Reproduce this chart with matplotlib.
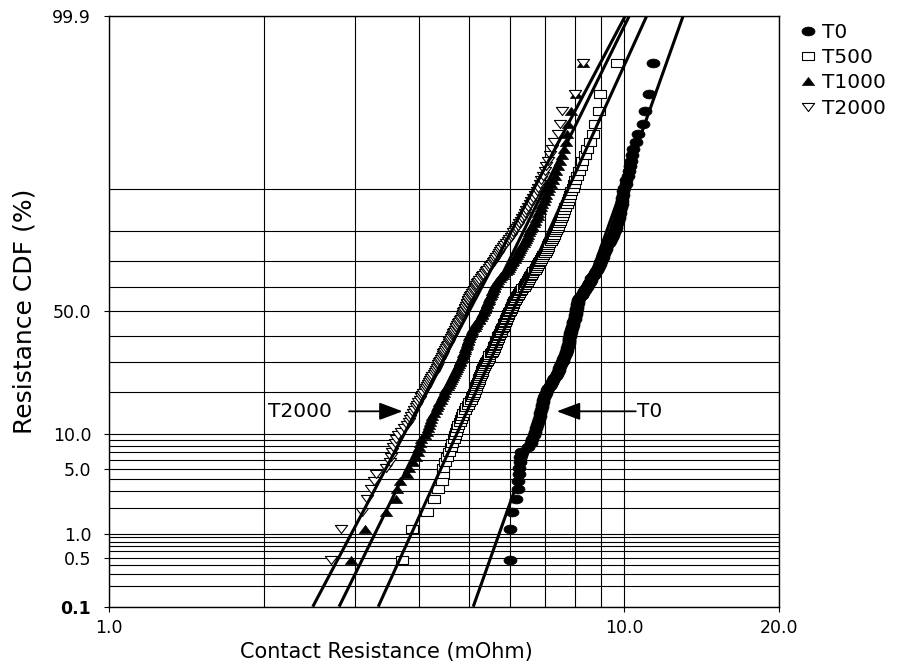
import numpy as np
import matplotlib
matplotlib.use("Agg")
import matplotlib.pyplot as plt
from matplotlib.path import Path
from matplotlib.ticker import NullFormatter
from statistics import NormalDist

plt.rcParams['font.family'] = ['DejaVu Sans']

# ---------------- data (contact resistance, mOhm, sorted) ----------------
series_names = ["T0", "T500", "T1000", "T2000"]

t0_values = [
    6.00, 6.00, 6.04, 6.17, 6.22, 6.22, 6.24, 6.25, 6.27, 6.28, 6.30,
    6.50, 6.60, 6.63, 6.67, 6.70, 6.72, 6.75, 6.78, 6.82, 6.85, 6.87, 6.89, 6.91, 6.93, 6.94, 6.96,
    6.98, 7.02, 7.05, 7.08, 7.12, 7.16, 7.20, 7.24,
    7.27, 7.31, 7.35, 7.39, 7.42, 7.45, 7.48,
    7.51, 7.54, 7.56, 7.59, 7.61, 7.64, 7.66, 7.69, 7.71, 7.74,
    7.75, 7.76, 7.78, 7.79, 7.80, 7.81, 7.82, 7.83, 7.84, 7.85,
    7.86, 7.88, 7.90, 7.92, 7.93, 7.95, 7.96, 7.98, 8.00, 8.02,
    8.03, 8.04, 8.05, 8.06, 8.07, 8.08, 8.09, 8.10, 8.11, 8.12, 8.14,
    8.18, 8.22, 8.26, 8.30, 8.34, 8.37, 8.41, 8.45, 8.49, 8.53,
    8.56, 8.60, 8.63, 8.67, 8.71, 8.75, 8.79, 8.83, 8.87,
    8.91, 8.95, 8.98, 9.01, 9.04, 9.07, 9.10, 9.13, 9.16, 9.19,
    9.22, 9.27, 9.32, 9.37, 9.42, 9.46, 9.50, 9.53,
    9.57, 9.61, 9.65, 9.68, 9.71, 9.74,
    9.77, 9.79, 9.81, 9.84, 9.87, 9.89,
    9.91, 9.93, 9.95, 10.00, 10.05,
    10.09, 10.14, 10.19, 10.24, 10.29, 10.34, 10.40,
    10.55, 10.61, 10.87, 10.98, 11.15, 11.35,
]

t500_values = [
    3.70, 3.87, 4.13, 4.27, 4.35, 4.42, 4.44, 4.45,
    4.49, 4.53, 4.57, 4.60, 4.63, 4.66, 4.69, 4.71, 4.74, 4.76, 4.79, 4.81, 4.84, 4.87, 4.90, 4.92, 4.96, 5.00, 5.04,
    5.06, 5.08, 5.10, 5.12, 5.14, 5.16, 5.18,
    5.20, 5.22, 5.23, 5.25, 5.26, 5.28, 5.29, 5.31,
    5.34, 5.36, 5.39, 5.41, 5.43, 5.45, 5.47, 5.50, 5.52, 5.55,
    5.57, 5.59, 5.61, 5.63, 5.64, 5.66, 5.68, 5.69, 5.71, 5.73,
    5.75, 5.77, 5.79, 5.81, 5.83, 5.84, 5.86, 5.88, 5.89, 5.91,
    5.93, 5.95, 5.97, 5.99, 6.01, 6.03, 6.05, 6.07, 6.09, 6.11, 6.13,
    6.16, 6.19, 6.22, 6.25, 6.28, 6.31, 6.34, 6.37, 6.40, 6.43,
    6.46, 6.49, 6.52, 6.55, 6.58, 6.61, 6.65, 6.69, 6.73,
    6.76, 6.80, 6.83, 6.86, 6.90, 6.93, 6.96, 7.00, 7.03, 7.06,
    7.09, 7.12, 7.15, 7.19, 7.22, 7.26, 7.29, 7.32,
    7.36, 7.39, 7.43, 7.46, 7.50, 7.53,
    7.56, 7.60, 7.64, 7.68, 7.72, 7.76,
    7.80, 7.84, 7.88, 7.93, 7.98,
    8.03, 8.08, 8.15, 8.22, 8.29, 8.37, 8.46,
    8.57, 8.67, 8.76, 8.93, 8.96, 9.66,
]

t1000_values = [
    2.94, 3.14, 3.45, 3.60, 3.62, 3.66, 3.79, 3.82, 3.88, 3.93, 3.97, 3.99, 4.01, 4.03,
    4.10, 4.14, 4.15, 4.17, 4.19, 4.21, 4.24, 4.27, 4.30, 4.32, 4.34, 4.37, 4.40,
    4.42, 4.45, 4.47, 4.49, 4.51, 4.54, 4.56,
    4.58, 4.60, 4.63, 4.65, 4.67, 4.69, 4.71, 4.74,
    4.76, 4.77, 4.79, 4.80, 4.82, 4.83, 4.85, 4.86, 4.88, 4.90,
    4.91, 4.93, 4.94, 4.95, 4.96, 4.97, 4.99, 5.00, 5.01, 5.03,
    5.05, 5.07, 5.09, 5.12, 5.14, 5.16, 5.18, 5.21, 5.23, 5.26,
    5.28, 5.29, 5.31, 5.33, 5.35, 5.37, 5.38, 5.40, 5.42, 5.44, 5.45,
    5.47, 5.49, 5.50, 5.52, 5.54, 5.56, 5.57, 5.59, 5.61, 5.63,
    5.66, 5.69, 5.73, 5.77, 5.81, 5.85, 5.89, 5.93, 5.97,
    6.00, 6.03, 6.06, 6.09, 6.12, 6.15, 6.18, 6.21, 6.24, 6.27,
    6.30, 6.34, 6.38, 6.41, 6.44, 6.47, 6.50, 6.53,
    6.56, 6.60, 6.63, 6.67, 6.71, 6.74,
    6.78, 6.81, 6.85, 6.89, 6.93, 6.97,
    7.01, 7.05, 7.09, 7.14, 7.19,
    7.26, 7.32, 7.38, 7.44, 7.50, 7.56, 7.62,
    7.69, 7.72, 7.76, 7.86, 8.07, 8.30,
]

t2000_values = [
    2.69, 2.82, 3.09, 3.17, 3.22, 3.26, 3.29, 3.45, 3.50, 3.52, 3.54, 3.56, 3.58, 3.60,
    3.64, 3.68, 3.74, 3.78, 3.81, 3.84, 3.86, 3.88, 3.91, 3.93, 3.96, 3.98, 4.01,
    4.03, 4.05, 4.07, 4.10, 4.12, 4.14, 4.16,
    4.18, 4.20, 4.22, 4.24, 4.26, 4.28, 4.30, 4.32,
    4.34, 4.35, 4.37, 4.39, 4.40, 4.42, 4.44, 4.45, 4.47, 4.49,
    4.51, 4.52, 4.54, 4.56, 4.57, 4.59, 4.60, 4.62, 4.64, 4.65,
    4.67, 4.69, 4.71, 4.72, 4.74, 4.76, 4.78, 4.79, 4.81, 4.83,
    4.84, 4.86, 4.87, 4.89, 4.90, 4.91, 4.93, 4.94, 4.95, 4.97, 4.98,
    5.00, 5.02, 5.04, 5.06, 5.08, 5.10, 5.12, 5.14, 5.15, 5.17,
    5.20, 5.23, 5.26, 5.29, 5.32, 5.35, 5.38, 5.42, 5.46,
    5.49, 5.52, 5.55, 5.58, 5.61, 5.64, 5.67, 5.70, 5.73, 5.77,
    5.81, 5.85, 5.89, 5.93, 5.97, 6.01, 6.05, 6.09,
    6.13, 6.17, 6.21, 6.25, 6.29, 6.33,
    6.37, 6.41, 6.45, 6.50, 6.55, 6.60,
    6.65, 6.70, 6.75, 6.80, 6.85,
    6.90, 6.95, 7.00, 7.05, 7.10, 7.16, 7.22,
    7.30, 7.42, 7.50, 7.58, 8.00, 8.30,
]

# lognormal fit lines: median (mOhm) and log10 spread per sigma
fit_median = [8.13, 6.06, 5.34, 4.99]
fit_slope = [0.0659, 0.0843, 0.0911, 0.0981]

y_ticks = [0.1, 0.5, 1.0, 5.0, 10.0, 50.0, 99.9]
y_ticklabels = ["0.1", "0.5", "1.0", "5.0", "10.0", "50.0", "99.9"]
y_grid_minor = [0.2, 0.3, 0.4, 0.6, 0.7, 0.8, 0.9,
                2, 3, 4, 6, 7, 8, 9,
                20, 30, 40, 60, 70, 80, 90]
x_ticks = [1.0, 10.0, 20.0]
x_ticklabels = ["1.0", "10.0", "20.0"]
x_grid_minor = [2, 3, 4, 5, 6, 7, 8, 9]

# ---------------- probability scale ----------------
_nd = NormalDist()
_ppf = np.vectorize(_nd.inv_cdf, otypes=[float])
_cdf = np.vectorize(_nd.cdf, otypes=[float])


def prob_fwd(p):
    p = np.clip(np.asarray(p, dtype=float) / 100.0, 1e-12, 1 - 1e-12)
    return _ppf(p)


def prob_inv(z):
    return _cdf(np.asarray(z, dtype=float)) * 100.0


# ---------------- elliptical markers ----------------
def closed_path(verts):
    verts = list(verts) + [verts[0]]
    codes = [Path.MOVETO] + [Path.LINETO] * (len(verts) - 2) + [Path.CLOSEPOLY]
    return Path(verts, codes)


th = np.linspace(0, 2 * np.pi, 48, endpoint=False)
m_circle = closed_path([(np.cos(t), 0.68 * np.sin(t)) for t in th])
m_square = closed_path([(-1, -0.68), (1, -0.68), (1, 0.68), (-1, 0.68)])
m_tri_up = closed_path([(-1, -0.66), (1, -0.66), (0, 0.66)])
m_tri_dn = closed_path([(-1, 0.66), (1, 0.66), (0, -0.66)])

styles = [
    dict(marker=m_circle, ms=9.4, mfc="black", mec="black", mew=0.5),
    dict(marker=m_square, ms=8.8, mfc="white", mec="black", mew=0.8),
    dict(marker=m_tri_up, ms=8.8, mfc="black", mec="black", mew=0.5),
    dict(marker=m_tri_dn, ms=8.8, mfc="white", mec="black", mew=0.8),
]

fig = plt.figure(figsize=(8.97, 6.70), dpi=100)
ax = fig.add_axes([0.1219, 0.0945, 0.7471, 0.8812])
ax.set_xscale("log")
ax.set_yscale("function", functions=(prob_fwd, prob_inv))
ax.set_xlim(1, 20)
ax.set_ylim(0.1, 99.9)

all_series = [t0_values, t500_values, t1000_values, t2000_values]
handles = []
for name, vals, st in zip(series_names, all_series, styles):
    vals = np.sort(np.asarray(vals))
    n = len(vals)
    ranks = np.arange(1, n + 1)
    pct = (ranks - 0.3) / (n + 0.4) * 100.0
    h, = ax.plot(vals, pct, linestyle="none", label=name, zorder=3, **st)
    handles.append(h)

for med, slope in zip(fit_median, fit_slope):
    pe = np.array([0.1, 99.9])
    xe = med * 10 ** (slope * prob_fwd(pe))
    ax.plot(xe, pe, color="black", lw=2.2, zorder=4, solid_capstyle="butt")

# ticks & grid
ax.set_xticks(x_ticks)
ax.set_xticklabels(x_ticklabels)
ax.set_xticks(x_grid_minor, minor=True)
ax.xaxis.set_minor_formatter(NullFormatter())
ax.set_yticks(y_ticks)
ax.set_yticklabels(y_ticklabels)
ax.set_yticks(y_grid_minor, minor=True)
ax.yaxis.set_minor_formatter(NullFormatter())
ax.set_axisbelow(True)
ax.grid(True, which="both", color="black", lw=0.8)
ax.tick_params(which="minor", length=0)
ax.tick_params(which="major", length=3.6, width=0.8, direction="out",
               labelsize=12.5, color="black")
ax.tick_params(axis="y", pad=9.5)
ax.tick_params(axis="x", pad=5)
ax.get_yticklabels()[0].set_fontweight("bold")
for sp in ax.spines.values():
    sp.set_linewidth(1.0)
    sp.set_color("black")

ax.set_xlabel("Contact Resistance (mOhm)", fontsize=15)
ax.xaxis.label.set_va("center")
ax.xaxis.set_label_coords(0.413, -0.077)
ax.set_ylabel("Resistance CDF (%)", fontsize=18)
ax.yaxis.label.set_va("center")
ax.yaxis.set_label_coords(-0.127, 0.5)

# annotations
arrow_kw = dict(arrowstyle="-|>,head_length=0.8,head_width=0.3", color="black",
                lw=1.3, shrinkA=0, shrinkB=0, mutation_scale=18)
ax.annotate("", xy=(3.71, 14.8), xytext=(2.92, 14.8), arrowprops=arrow_kw, zorder=5)
ax.text(2.70, 14.8, "T2000", ha="right", va="center", fontsize=14.5)
ax.annotate("", xy=(7.39, 14.8), xytext=(10.52, 14.8), arrowprops=arrow_kw, zorder=5)
ax.text(10.56, 14.8, "T0", ha="left", va="center", fontsize=14.5)

leg = ax.legend(handles=handles, loc="upper left", bbox_to_anchor=(0.8896, 0.9657),
                bbox_transform=fig.transFigure, frameon=False, fontsize=14.5,
                handlelength=1.0, handletextpad=0.2, labelspacing=0.31,
                borderpad=0, borderaxespad=0, numpoints=1)

fig.savefig("out.png", dpi=100)
